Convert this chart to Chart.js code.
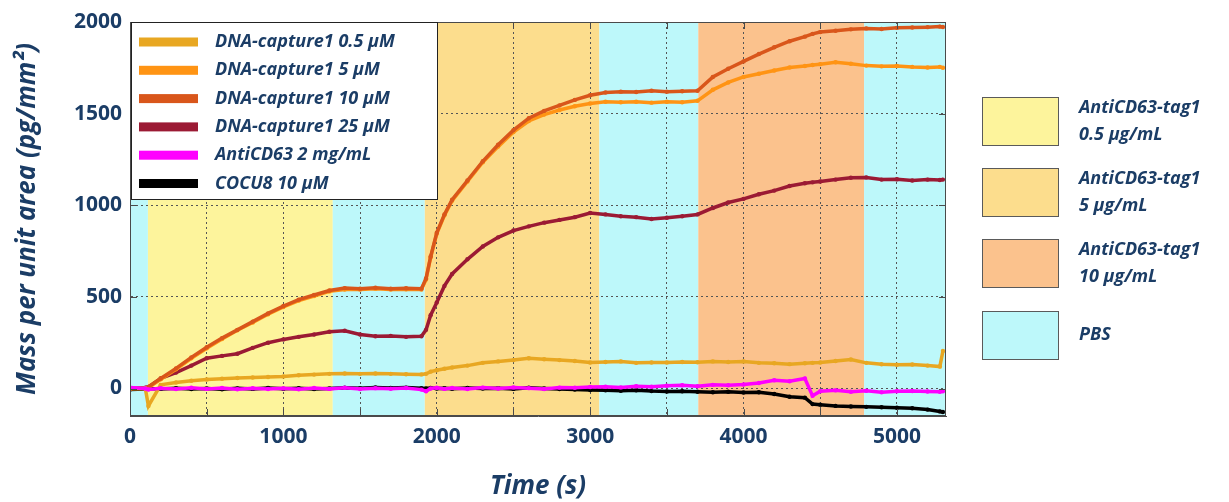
<!DOCTYPE html>
<html>
<head>
<meta charset="utf-8">
<script src="https://cdn.jsdelivr.net/npm/chart.js@4.4.1/dist/chart.umd.min.js"></script>
<style>
  body { margin: 0; background: #ffffff; }
  #wrap { width: 1229px; height: 502px; position: relative; }
</style>
</head>
<body>
<div id="wrap"><canvas id="massChart"></canvas></div>
<script>
// time points (s) shared by every trace
const times = [0, 100, 120, 200, 300, 400, 500, 600, 700, 800, 900, 1000, 1100, 1200, 1300, 1400, 1500, 1600, 1700, 1800, 1900, 1930, 1960, 2000, 2050,
  2100, 2200, 2300, 2400, 2500, 2600, 2700, 2800, 2900, 3000, 3100, 3200, 3300, 3400, 3500, 3600, 3700, 3800, 3900, 4000, 4100, 4200, 4300, 4400, 4450,
  4500, 4600, 4700, 4800, 4900, 5000, 5100, 5200, 5280, 5300];

const dnaCapture05 = [0, 0, -95, 20, 33, 42, 49, 53, 57, 60, 63, 66, 72, 76, 80, 82, 80, 82, 80, 78, 77, 80, 92, 100, 108,
  115, 125, 140, 148, 155, 165, 160, 155, 150, 142, 145, 148, 140, 142, 142, 145, 143, 148, 145, 148, 140, 138, 133, 138, 140,
  142, 150, 158, 140, 132, 130, 131, 125, 120, 205];
const dnaCapture5 = [0, 0, 5, 50, 105, 165, 220, 270, 318, 360, 405, 445, 480, 505, 530, 540, 540, 545, 540, 542, 540, 595, 715, 845, 945,
  1025, 1130, 1235, 1320, 1400, 1460, 1495, 1520, 1540, 1555, 1565, 1562, 1565, 1560, 1565, 1562, 1570, 1630, 1670, 1700, 1718, 1735, 1752, 1760, 1765,
  1770, 1780, 1772, 1762, 1758, 1760, 1755, 1752, 1755, 1750];
const dnaCapture10 = [0, 2, 8, 55, 110, 170, 225, 275, 320, 365, 410, 450, 485, 510, 535, 548, 545, 550, 545, 547, 545, 600, 720, 850, 950,
  1030, 1135, 1240, 1330, 1410, 1475, 1515, 1545, 1575, 1600, 1615, 1620, 1618, 1625, 1620, 1622, 1625, 1700, 1745, 1785, 1825, 1862, 1895, 1920, 1935,
  1945, 1952, 1960, 1965, 1962, 1968, 1970, 1972, 1975, 1973];
const dnaCapture25 = [0, 5, 8, 55, 87, 125, 165, 178, 190, 222, 250, 268, 282, 295, 310, 315, 295, 285, 287, 282, 285, 320, 400, 470, 560,
  625, 705, 775, 825, 862, 885, 905, 920, 935, 958, 950, 940, 935, 925, 932, 940, 950, 985, 1015, 1035, 1060, 1080, 1105, 1120, 1125,
  1130, 1140, 1150, 1152, 1140, 1142, 1135, 1140, 1138, 1140];
const antiCD63 = [5, 0, -5, 2, -3, 4, -2, 3, -4, 2, -3, 1, -4, 3, -2, 4, -3, 2, -1, 3, -6, -15, 0, 4, -2,
  3, -3, 5, 0, 6, 2, -3, 5, 4, 8, 10, 6, 12, 10, 15, 18, 12, 20, 18, 22, 30, 45, 40, 55, -40,
  -15, -10, -18, -12, -20, -15, -14, -16, -18, -15];
const cocu8 = [-5, -3, 0, -2, 2, -3, 0, -4, 1, -2, 3, -1, 2, -3, 0, 4, 2, 6, 3, 5, 2, 0, 3, 0, 2,
  -1, 3, 0, 2, -2, 4, 0, -3, -5, -8, -10, -12, -10, -14, -16, -15, -18, -20, -18, -22, -20, -30, -45, -50, -85,
  -88, -95, -98, -100, -102, -105, -108, -115, -125, -128];

const seriesLabels = ['DNA-capture1 0.5 µM', 'DNA-capture1 5 µM', 'DNA-capture1 10 µM', 'DNA-capture1 25 µM', 'AntiCD63 2 mg/mL', 'COCU8 10 µM'];
const seriesColors = ['#E8A722', '#FF9414', '#D9561B', '#9B1A34', '#FF00FF', '#000000'];
const seriesValues = [dnaCapture05, dnaCapture5, dnaCapture10, dnaCapture25, antiCD63, cocu8];
const drawOrder = [1, 3, 2, 4, 0, 5];

// axis ticks (x labels only every 1000)
const xTickValues = [0, 500, 1000, 1500, 2000, 2500, 3000, 3500, 4000, 4500, 5000];
const yTickValues = [0, 500, 1000, 1500, 2000];

// injection phases shaded behind the traces
const bandStart = [0, 117, 1322, 1922, 3060, 3705, 4786];
const bandEnd = [117, 1322, 1922, 3060, 3705, 4786, 5320];
const bandKind = [3, 0, 3, 1, 3, 2, 3];
const phaseLabels = [['AntiCD63-tag1', '0.5 µg/mL'], ['AntiCD63-tag1', '5 µg/mL'], ['AntiCD63-tag1', '10 µg/mL'], ['PBS']];
const phaseColors = ['#FDF49C', '#FCDD8D', '#FBC28D', '#BDF8FA'];

const textColor = '#1B3D66';
const fontFamily = "'Open Sans', 'DejaVu Sans', sans-serif";

const dataset = seriesValues.map((vals, i) => ({
  label: seriesLabels[i],
  data: vals.map((v, j) => ({x: times[j], y: v})),
  borderColor: seriesColors[i],
  backgroundColor: seriesColors[i],
  borderWidth: 3.5,
  pointRadius: 2.2,
  pointBorderWidth: 0,
  order: drawOrder[i],
}));

const phaseBands = {
  id: 'phaseBands',
  beforeDraw(chart) {
    const {ctx, chartArea} = chart;
    const xs = chart.scales.x;
    ctx.save();
    bandStart.forEach((s, i) => {
      const x1 = Math.max(xs.getPixelForValue(s), chartArea.left);
      const x2 = Math.min(xs.getPixelForValue(bandEnd[i]), chartArea.right);
      ctx.fillStyle = phaseColors[bandKind[i]];
      ctx.fillRect(x1, chartArea.top, x2 - x1, chartArea.bottom - chartArea.top);
    });
    ctx.restore();
  }
};

const frameAndLegends = {
  id: 'frameAndLegends',
  afterDraw(chart) {
    const {ctx, chartArea} = chart;
    const xs = chart.scales.x, ys = chart.scales.y;
    ctx.save();
    // frame and inward ticks
    ctx.strokeStyle = '#4a4a4a';
    ctx.lineWidth = 1;
    ctx.strokeRect(chartArea.left + 0.5, chartArea.top + 0.5, chartArea.right - chartArea.left - 1, chartArea.bottom - chartArea.top - 1);
    ctx.beginPath();
    xs.ticks.forEach(t => {
      const px = Math.round(xs.getPixelForValue(t.value)) + 0.5;
      ctx.moveTo(px, chartArea.bottom); ctx.lineTo(px, chartArea.bottom - 7);
      ctx.moveTo(px, chartArea.top); ctx.lineTo(px, chartArea.top + 7);
    });
    ys.ticks.forEach(t => {
      const py = Math.round(ys.getPixelForValue(t.value)) + 0.5;
      ctx.moveTo(chartArea.left, py); ctx.lineTo(chartArea.left + 7, py);
      ctx.moveTo(chartArea.right, py); ctx.lineTo(chartArea.right - 7, py);
    });
    ctx.stroke();

    // series legend inside the plot
    const lx = chartArea.left + 1, ly = chartArea.top;
    ctx.fillStyle = '#ffffff';
    ctx.fillRect(lx, ly, 306, 177);
    ctx.strokeStyle = '#222222';
    ctx.strokeRect(lx + 0.5, ly + 0.5, 306, 177);
    ctx.font = `italic bold 18px ${fontFamily}`;
    ctx.textBaseline = 'middle';
    ctx.textAlign = 'left';
    seriesLabels.forEach((lab, i) => {
      const cy = ly + 20 + i * 28.3;
      ctx.fillStyle = seriesColors[i];
      ctx.fillRect(lx + 8, cy - 4.5, 59, 9);
      ctx.fillStyle = textColor;
      ctx.fillText(lab, lx + 84, cy);
    });

    // phase legend on the right
    const boxTops = [97, 168, 239, 311];
    phaseLabels.forEach((lines, i) => {
      const top = boxTops[i];
      ctx.fillStyle = phaseColors[i];
      ctx.fillRect(982, top, 76, 48);
      ctx.strokeStyle = '#5a5a5a';
      ctx.strokeRect(982.5, top + 0.5, 76, 48);
      ctx.fillStyle = textColor;
      const mid = top + 24;
      lines.forEach((txt, k) => {
        const off = lines.length === 1 ? 0 : (k === 0 ? -13.5 : 13.5);
        ctx.fillText(txt, 1079, mid + off);
      });
    });
    ctx.restore();
  }
};

new Chart(document.getElementById('massChart'), {
  type: 'line',
  data: { datasets: dataset },
  options: {
    responsive: true,
    maintainAspectRatio: false,
    animation: false,
    layout: { padding: { top: 22, right: 283, left: 0, bottom: 0 } },
    plugins: {
      legend: { display: false },
      tooltip: { enabled: false },
    },
    scales: {
      x: {
        type: 'linear',
        min: 0,
        max: 5320,
        afterFit: function(scale) { scale.height = 86; },
        afterBuildTicks: function(scale) { scale.ticks = xTickValues.map(v => ({value: v})); },
        ticks: {
          maxRotation: 0,
          autoSkip: false,
          padding: 8,
          color: textColor,
          font: { family: fontFamily, size: 21, weight: 'bold' },
          callback: function(value) { return value % 1000 === 0 ? String(value) : ''; }
        },
        grid: { color: '#555555', drawTicks: false, lineWidth: 1 },
        border: { color: '#4a4a4a', dash: [2, 3] },
        title: {
          display: true,
          text: 'Time (s)',
          color: textColor,
          padding: { top: 0, bottom: 0 },
          font: { family: fontFamily, size: 26, weight: 'bold', style: 'italic' }
        }
      },
      y: {
        min: -150,
        max: 2000,
        afterFit: function(scale) { scale.width = 130; },
        afterBuildTicks: function(scale) { scale.ticks = yTickValues.map(v => ({value: v})); },
        ticks: {
          padding: 8,
          color: textColor,
          font: { family: fontFamily, size: 21, weight: 'bold' },
          callback: function(value) { return String(value); }
        },
        grid: { color: '#555555', drawTicks: false, lineWidth: 1 },
        border: { color: '#4a4a4a', dash: [2, 3] },
        title: {
          display: true,
          text: 'Mass per unit area (pg/mm²)',
          color: textColor,
          padding: { top: 12, bottom: 0 },
          font: { family: fontFamily, size: 26, weight: 'bold', style: 'italic' }
        }
      }
    }
  },
  plugins: [phaseBands, frameAndLegends]
});
</script>
</body>
</html>
